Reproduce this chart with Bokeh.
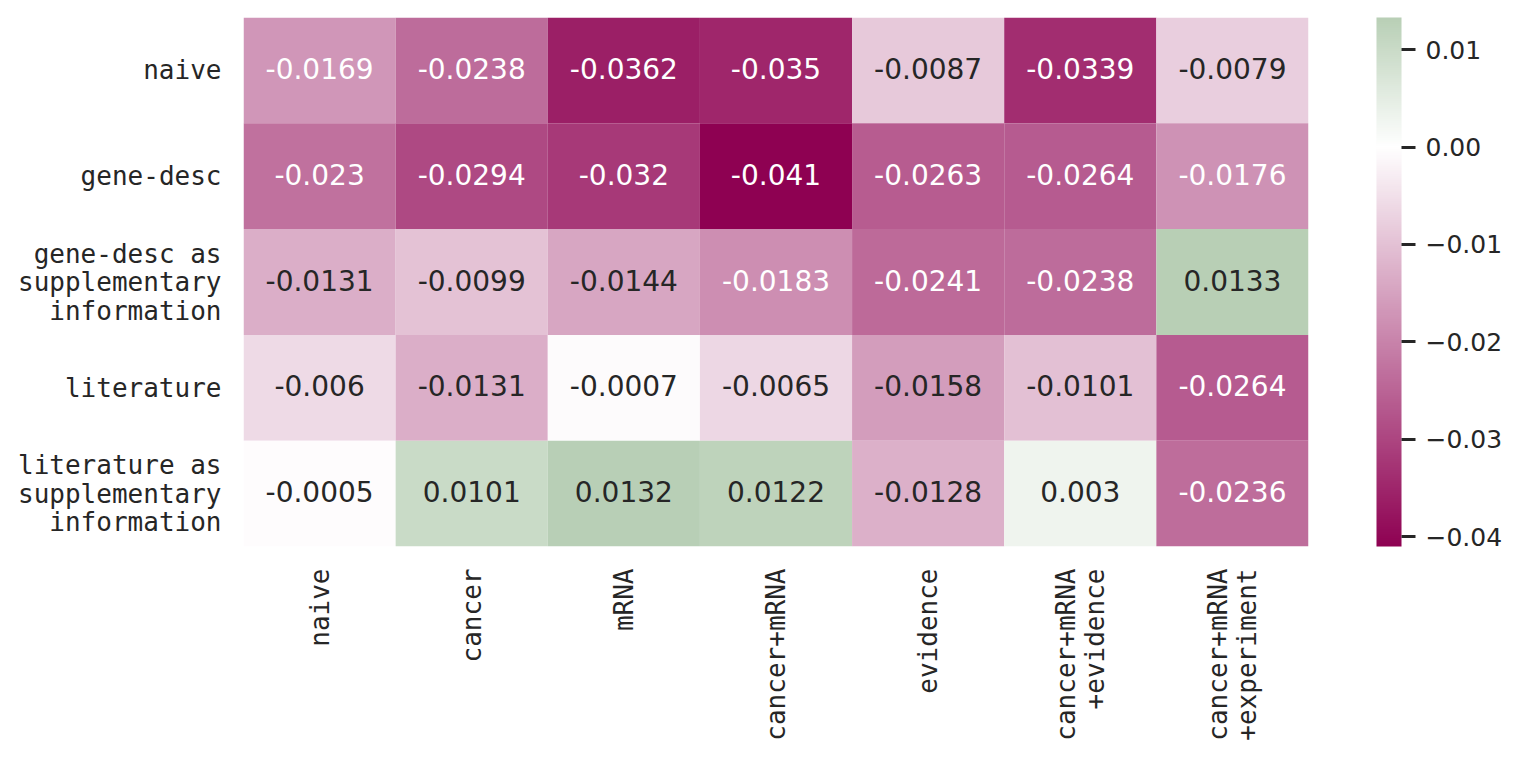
import numpy as np
from bokeh.plotting import figure
from bokeh.models import (ColumnDataSource, FactorRange, LinearColorMapper, ColorBar,
                          FixedTicker, CustomJSTickFormatter)
from bokeh.core.properties import value
from bokeh.embed import file_html
from bokeh.resources import INLINE

rows = ["naive", "gene-desc", "gene-desc as\nsupplementary\ninformation",
        "literature", "literature as\nsupplementary\ninformation"]
cols = ["naive", "cancer", "mRNA", "cancer+mRNA", "evidence",
        "cancer+mRNA\n+evidence", "cancer+mRNA\n+experiment"]

row_naive = [-0.0169, -0.0238, -0.0362, -0.035, -0.0087, -0.0339, -0.0079]
row_gene_desc = [-0.023, -0.0294, -0.032, -0.041, -0.0263, -0.0264, -0.0176]
row_gene_desc_supp = [-0.0131, -0.0099, -0.0144, -0.0183, -0.0241, -0.0238, 0.0133]
row_literature = [-0.006, -0.0131, -0.0007, -0.0065, -0.0158, -0.0101, -0.0264]
row_literature_supp = [-0.0005, 0.0101, 0.0132, 0.0122, -0.0128, 0.003, -0.0236]

matrix = [row_naive, row_gene_desc, row_gene_desc_supp, row_literature, row_literature_supp]

cbar_ticks = [-0.04, -0.03, -0.02, -0.01, 0.0, 0.01]

VMIN, VMAX = -0.041, 0.0133
NEG = np.array([0x8e, 0x01, 0x52], float)
WHITE = np.array([255, 255, 255], float)
POS = np.array([0x24, 0x6b, 0x1b], float)   # colour reached at +|VMIN|


def colour(v):
    if v < 0:
        t = min(1.0, -v / 0.041)
        c = WHITE + (NEG - WHITE) * t
    else:
        t = min(1.0, v / 0.041)
        c = WHITE + (POS - WHITE) * t
    return "#%02x%02x%02x" % tuple(int(round(x)) for x in c)


def lum(hexc):
    rgb = [int(hexc[i:i + 2], 16) / 255 for i in (1, 3, 5)]
    lin = [x / 12.92 if x <= 0.03928 else ((x + 0.055) / 1.055) ** 2.4 for x in rgb]
    return 0.2126 * lin[0] + 0.7152 * lin[1] + 0.0722 * lin[2]


xs, ys, vals, fills, labels, tcols = [], [], [], [], [], []
for r, rowvals in zip(rows, matrix):
    for c, v in zip(cols, rowvals):
        xs.append(c)
        ys.append(r)
        vals.append(v)
        f = colour(v)
        fills.append(f)
        labels.append(str(v))
        tcols.append("#262626" if lum(f) > 0.408 else "#ffffff")

src = ColumnDataSource(dict(x=xs, y=ys, v=vals, fill=fills, label=labels, tcol=tcols))

p = figure(frame_width=1065, frame_height=529, output_backend="svg", toolbar_location=None,
           x_range=FactorRange(*cols), y_range=FactorRange(*reversed(rows)),
           min_border_left=243, min_border_top=17, min_border_bottom=200,
           min_border_right=205)
p.outline_line_color = None
p.grid.grid_line_color = None
p.background_fill_color = "white"

p.rect(x="x", y="y", width=1, height=1, source=src, fill_color="fill", line_color=None)
p.text(x="x", y="y", text="label", source=src, text_color="tcol",
       text_align="center", text_baseline="middle", y_offset=-2,
       text_font=value("DejaVu Sans"), text_font_size="28px")

for ax in (p.xaxis[0], p.yaxis[0]):
    ax.axis_line_color = None
    ax.major_tick_line_color = None
    ax.minor_tick_line_color = None
    ax.major_tick_out = 0
    ax.major_tick_in = 0
    ax.major_label_text_font = "DejaVu Sans Mono"
    ax.major_label_text_font_size = "26px"
    ax.major_label_text_color = "#262626"
    ax.major_label_text_line_height = 0.95
    ax.major_label_standoff = 22
p.xaxis.major_label_orientation = np.pi / 2
# centre the shorter second line of the rotated labels (monospace font)
p.xaxis.major_label_overrides = {
    "cancer+mRNA\n+evidence": "cancer+mRNA\n+evidence\u00a0",
}

palette = []
for i in range(256):
    palette.append(colour(VMIN + (VMAX - VMIN) * (i + 0.5) / 256))
mapper = LinearColorMapper(palette=palette, low=VMIN, high=VMAX)

cb = ColorBar(color_mapper=mapper, width=25, height=529, padding=0, margin=0,
              location=(68, 0),
              ticker=FixedTicker(ticks=cbar_ticks),
              formatter=CustomJSTickFormatter(code="return (tick < -1e-9 ? '\u2212' : '') + Math.abs(tick).toFixed(2);"),
              major_tick_in=0, major_tick_out=14, major_tick_line_color="#262626",
              major_tick_line_width=3, label_standoff=10,
              major_label_text_font="DejaVu Sans", major_label_text_font_size="25px",
              major_label_text_color="#262626", bar_line_color=None,
              border_line_color=None, background_fill_color=None)
p.add_layout(cb, "right")

open("out.html", "w").write(file_html(p, INLINE))
